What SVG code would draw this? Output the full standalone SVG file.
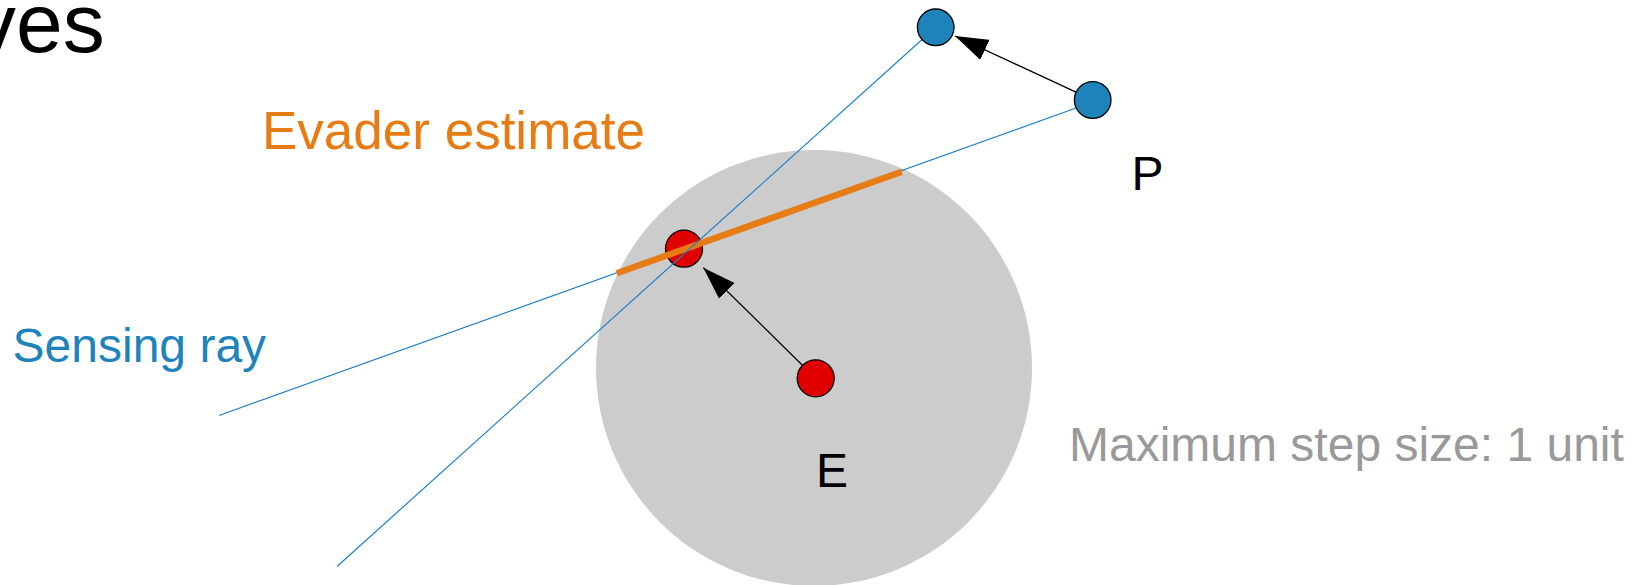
<svg xmlns="http://www.w3.org/2000/svg" width="1642" height="585" viewBox="0 0 1642 585">
<defs>
<style>
text{font-family:"Liberation Sans",Arial,sans-serif}
.lbl{font-size:48px;fill:#000}
.ray{stroke:#1f80c8;stroke-width:1.2;fill:none}
.step{stroke:#000;stroke-width:1.3;fill:none;marker-end:url(#ah)}
.pn{fill:#1f83bb;stroke:#000;stroke-width:1.3}
.en{fill:#e00000;stroke:#000;stroke-width:1.3}
</style>
<marker id="ah" markerUnits="userSpaceOnUse" viewBox="0 0 33 22" markerWidth="33" markerHeight="22" refX="33" refY="11" orient="auto">
<path d="M0,0 L33,11 L0,22 z" fill="#000"/>
</marker>
</defs>
<rect width="1642" height="585" fill="#fff"/>
<text x="-26" y="52" font-size="84" fill="#000">ves</text>
<circle id="reach" cx="814" cy="368" r="218" fill="#cccccc"/>
<g id="connectors">
<line id="ray2" class="ray" x1="1092.7" y1="102" x2="219" y2="415.5"/>
<line id="step-e" class="step" x1="802.4" y1="365.2" x2="703.3" y2="267.7"/>
<line id="step-p" class="step" x1="1076" y1="92.1" x2="955" y2="36"/>
</g>
<g id="node-e1"><circle class="en" cx="684" cy="248.7" r="18.5"/></g>
<line id="estimate" x1="616.7" y1="273.3" x2="901.7" y2="171.7" stroke="#e67c13" stroke-width="6.5"/>
<line id="ray1" class="ray" x1="935.7" y1="27.3" x2="337" y2="566.5"/>
<g id="node-e0"><circle class="en" cx="815.7" cy="378.3" r="18.5"/></g>
<g id="node-p1"><circle class="pn" cx="935.7" cy="27.3" r="18.3"/></g>
<g id="node-p0"><circle class="pn" cx="1092.7" cy="100" r="18.3"/></g>
<text x="262" y="149.3" font-size="53" fill="#e67c13">Evader estimate</text>
<text x="12.6" y="361.7" font-size="48" fill="#1f83bb">Sensing ray</text>
<text class="lbl" x="1131.5" y="190">P</text>
<text class="lbl" x="816" y="487">E</text>
<text x="1069" y="461" font-size="48" fill="#999999">Maximum step size: 1 unit</text>
</svg>
